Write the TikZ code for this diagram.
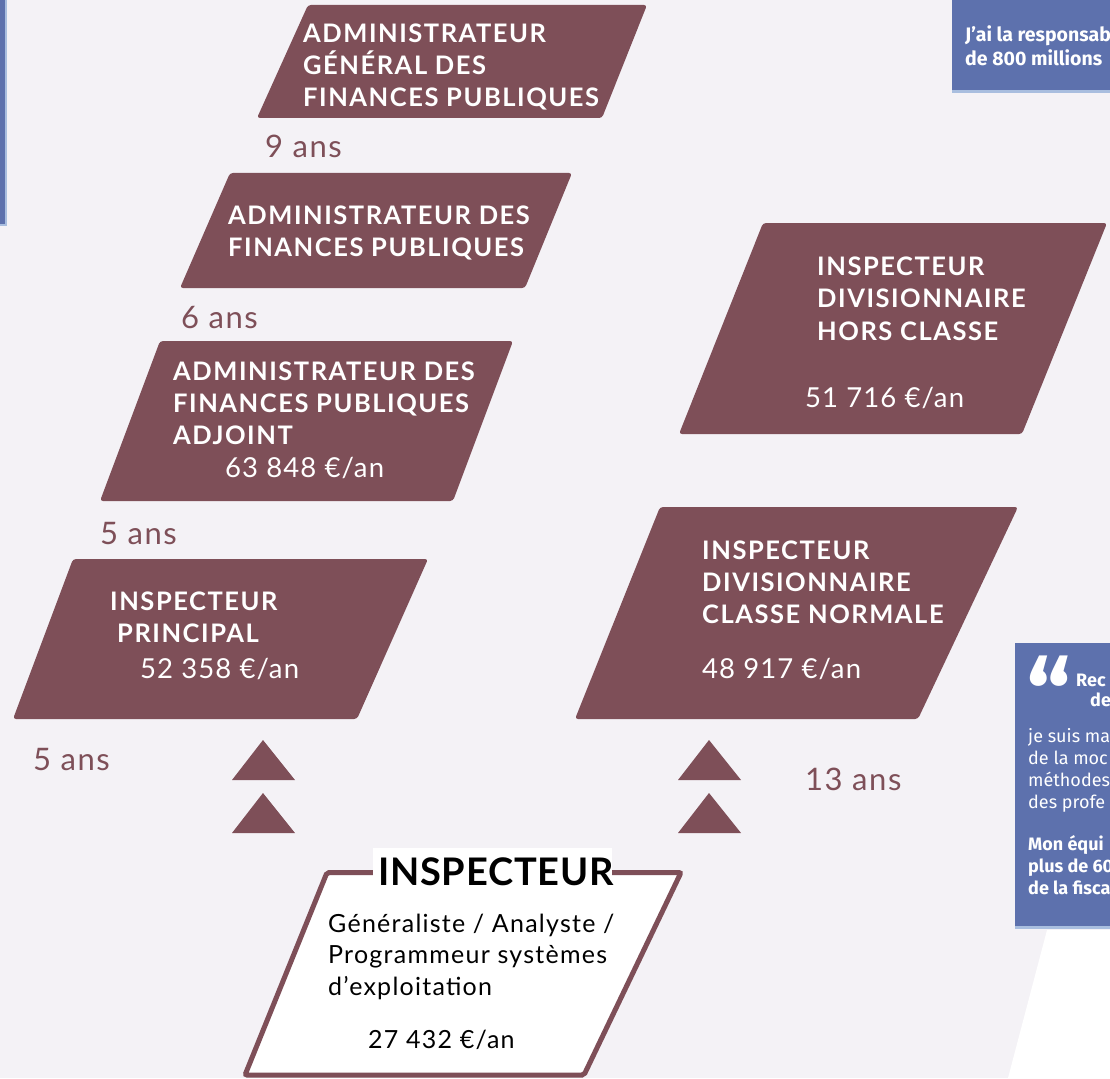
\documentclass[tikz,border=0pt]{standalone}
\usepackage{fontspec}
\setmainfont{Lato}
\newfontfamily\boxfont{Fira Sans}
\definecolor{bg}{HTML}{F4F2F6}
\definecolor{maroon}{HTML}{7E4F58}
\definecolor{bluebox}{HTML}{5D71AD}
\definecolor{blueline}{HTML}{A9BEDF}
\tikzset{
  para/.style={fill=maroon, rounded corners=3pt},
  ttl/.style={font=\bfseries\fontsize{25.5}{32}\selectfont\addfontfeatures{LetterSpace=6}, text=white, anchor=base west, inner sep=0pt},
  sal/.style={font=\fontsize{27.5}{31}\selectfont\addfontfeatures{LetterSpace=4}, text=white, anchor=base west, inner sep=0pt},
  yrs/.style={font=\fontsize{31}{34}\selectfont\addfontfeatures{LetterSpace=5}, text=maroon, anchor=base west, inner sep=0pt},
  tri/.style={fill=maroon},
  desc/.style={anchor=base west, inner sep=0pt, font=\fontsize{25}{30}\selectfont\addfontfeatures{LetterSpace=5}},
  bluetxt/.style={font=\boxfont\fontsize{18}{22}\selectfont, text=white, anchor=base west, inner sep=0pt},
  bluebold/.style={bluetxt, font=\boxfont\bfseries\fontsize{18}{22}\selectfont},
}
\begin{document}
\begin{tikzpicture}[x=1pt,y=-1pt]
\useasboundingbox (0,0) rectangle (1110,1078);
\fill[bg] (0,0) rectangle (1110,1078);
% white area bottom right
\fill[white] (1047,930) -- (1110,930) -- (1110,1078) -- (1008,1078) -- cycle;
% blue side panels
\fill[blueline] (0,0) rectangle (7,226);
\fill[bluebox] (0,0) rectangle (5,224);
\fill[blueline] (952,0) rectangle (1110,93);
\fill[bluebox] (952,0) rectangle (1110,90);
\fill[blueline] (1015,643) rectangle (1110,929);
\fill[bluebox] (1015,643) rectangle (1110,926);
\begin{scope}
\clip (952,0) rectangle (1110,90);
\node[bluebold, font=\boxfont\bfseries\fontsize{19.5}{22}\selectfont] (q1a) at (965,42) {J’ai la responsab};
\node[bluebold, font=\boxfont\bfseries\fontsize{19.5}{22}\selectfont] (q1b) at (965,66) {de 800 millions};
\end{scope}
\begin{scope}
\clip (1015,643) rectangle (1110,926);
\node[bluebold, font=\boxfont\bfseries\fontsize{100}{100}\selectfont, anchor=base west] (qm) at (1026,732) {“};
\node[bluebold] (q2a) at (1076,686) {Rec};
\node[bluebold] (q2b) at (1090,706) {des};
\node[bluetxt] (q2c) at (1028,742) {je suis ma};
\node[bluetxt] (q2d) at (1028,764) {de la moc};
\node[bluetxt] (q2e) at (1028,786) {méthodes};
\node[bluetxt] (q2f) at (1028,808) {des profe};
\node[bluebold] (q2g) at (1028,850) {Mon équi};
\node[bluebold] (q2h) at (1028,872) {plus de 60};
\node[bluebold] (q2i) at (1028,894) {de la fisca};
\end{scope}
% AGFP
\fill[para] (308,5) -- (647,5) -- (602,118) -- (257,118) -- cycle;
\node[ttl] (agfp1) at (303,43) {ADMINISTRATEUR};
\node[ttl] (agfp2) at (303,75) {GÉNÉRAL DES};
\node[ttl] (agfp3) at (303,107) {FINANCES PUBLIQUES};
\node[yrs] (y9) at (265,158) {9 ans};
% AFP
\fill[para] (230,173) -- (572,173) -- (525,288) -- (180,288) -- cycle;
\node[ttl] (afp1) at (228,224) {ADMINISTRATEUR DES};
\node[ttl] (afp2) at (228,256) {FINANCES PUBLIQUES};
\node[yrs] (y6) at (181,328) {6 ans};
% AFPA
\fill[para] (160,341) -- (513,341) -- (453,501) -- (100,501) -- cycle;
\node[ttl] (afpa1) at (173,380) {ADMINISTRATEUR DES};
\node[ttl] (afpa2) at (173,412) {FINANCES PUBLIQUES};
\node[ttl] (afpa3) at (173,444) {ADJOINT};
\node[sal] (s1) at (225,477) {63 848 €/an};
\node[yrs] (y5a) at (100,544) {5 ans};
% IP
\fill[para] (73,559) -- (428,559) -- (357,719) -- (13,719) -- cycle;
\node[ttl] (ip1) at (110,610) {INSPECTEUR};
\node[ttl] (ip2) at (117,642) {PRINCIPAL};
\node[sal] (s2) at (140,678) {52 358 €/an};
\node[yrs] (y5b) at (33,770) {5 ans};
% IDHC
\fill[para] (763,223) -- (1107,223) -- (1022,434) -- (679,434) -- cycle;
\node[ttl] (idhc1) at (817,275) {INSPECTEUR};
\node[ttl] (idhc2) at (817,307) {DIVISIONNAIRE};
\node[ttl] (idhc3) at (817,340) {HORS CLASSE};
\node[sal] (s3) at (805,407) {51 716 €/an};
% IDCN
\fill[para] (660,507) -- (1018,507) -- (918,719) -- (575,719) -- cycle;
\node[ttl] (idcn1) at (702,559) {INSPECTEUR};
\node[ttl] (idcn2) at (702,591) {DIVISIONNAIRE};
\node[ttl] (idcn3) at (702,623) {CLASSE NORMALE};
\node[sal] (s4) at (702,678) {48 917 €/an};
\node[yrs] (y13) at (805,790) {13 ans};
% triangles
\fill[tri] (263,740) -- (295,780) -- (232,780) -- cycle;
\fill[tri] (263,793) -- (295,833) -- (232,833) -- cycle;
\fill[tri] (709,740) -- (741,780) -- (678,780) -- cycle;
\fill[tri] (709,793) -- (741,833) -- (678,833) -- cycle;
% INSPECTEUR box
\draw[line width=5pt, draw=maroon, fill=white, rounded corners=2pt] (327,872.5) -- (681,872.5) -- (584,1075) -- (245,1075) -- cycle;
\fill[white] (373,848) rectangle (612,888);
\node[anchor=base west, inner sep=0pt, font=\bfseries\fontsize{38}{40}\selectfont\addfontfeatures{LetterSpace=2}] (insp) at (378,885) {INSPECTEUR};
\node[desc] (d1) at (328,932) {Généraliste / Analyste /};
\node[desc] (d2) at (328,963) {Programmeur systèmes};
\node[desc] (d3) at (328,995) {d’exploitation};
\node[desc] (s5) at (368,1048) {27 432 €/an};
\end{tikzpicture}
\end{document}
